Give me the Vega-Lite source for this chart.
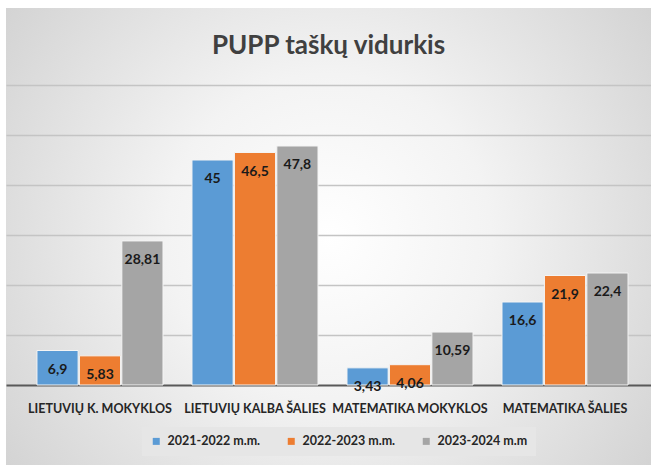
{
  "$schema": "https://vega.github.io/schema/vega-lite/v6.json",
  "width": 645,
  "height": 457,
  "autosize": {"type": "none"},
  "padding": {"left": 6, "top": 8, "right": 0, "bottom": 0},
  "background": "#ffffff",
  "title": {
    "text": "PUPP taškų vidurkis",
    "anchor": "middle",
    "orient": "top",
    "offset": -51,
    "font": "Lato",
    "fontSize": 26,
    "fontWeight": "bold",
    "color": "#404040"
  },
  "data": {
    "values": [
      {"category": "LIETUVIŲ K. MOKYKLOS", "year": "2021-2022 m.m.", "value": 6.9},
      {"category": "LIETUVIŲ K. MOKYKLOS", "year": "2022-2023 m.m.", "value": 5.83},
      {"category": "LIETUVIŲ K. MOKYKLOS", "year": "2023-2024 m.m", "value": 28.81},
      {"category": "LIETUVIŲ KALBA ŠALIES", "year": "2021-2022 m.m.", "value": 45},
      {"category": "LIETUVIŲ KALBA ŠALIES", "year": "2022-2023 m.m.", "value": 46.5},
      {"category": "LIETUVIŲ KALBA ŠALIES", "year": "2023-2024 m.m", "value": 47.8},
      {"category": "MATEMATIKA MOKYKLOS", "year": "2021-2022 m.m.", "value": 3.43},
      {"category": "MATEMATIKA MOKYKLOS", "year": "2022-2023 m.m.", "value": 4.06},
      {"category": "MATEMATIKA MOKYKLOS", "year": "2023-2024 m.m", "value": 10.59},
      {"category": "MATEMATIKA ŠALIES", "year": "2021-2022 m.m.", "value": 16.6},
      {"category": "MATEMATIKA ŠALIES", "year": "2022-2023 m.m.", "value": 21.9},
      {"category": "MATEMATIKA ŠALIES", "year": "2023-2024 m.m", "value": 22.4}
    ]
  },
  "encoding": {
    "x": {
      "field": "category",
      "type": "nominal",
      "sort": null,
      "scale": {"paddingInner": 0.187, "paddingOuter": 0.174, "align": 0.574},
      "axis": {
        "title": null,
        "orient": "bottom",
        "offset": -80,
        "labelAngle": 0,
        "ticks": false,
        "domainColor": "#595959",
        "domainWidth": 2,
        "labelPadding": 17,
        "labelFont": "Lato",
        "labelFontSize": 12.5,
        "labelFontWeight": "bold",
        "labelColor": "#262626",
        "grid": false
      }
    },
    "xOffset": {
      "field": "year",
      "type": "nominal",
      "sort": null,
      "scale": {"paddingInner": 0.03, "paddingOuter": 0}
    },
    "y": {
      "field": "value",
      "type": "quantitative",
      "scale": {"domain": [-16, 75.4], "nice": false, "zero": false},
      "axis": {
        "title": null,
        "values": [10, 20, 30, 40, 50, 60],
        "labels": false,
        "ticks": false,
        "domain": false,
        "grid": true,
        "gridColor": "#c4c4c4",
        "gridWidth": 1.5
      }
    }
  },
  "layer": [
    {
      "mark": {"type": "bar", "stroke": "#f4f4f4", "strokeWidth": 1},
      "encoding": {
        "y2": {"datum": 0},
        "color": {
          "field": "year",
          "type": "nominal",
          "sort": null,
          "scale": {"range": ["#5b9bd5", "#ed7d31", "#a5a5a5"]},
          "legend": {
            "title": null,
            "orient": "none",
            "legendX": 136,
            "legendY": 419,
            "direction": "horizontal",
            "symbolType": "square",
            "symbolSize": 49,
            "symbolStrokeWidth": 0,
            "labelFont": "Lato",
            "labelFontSize": 12.5,
            "labelFontWeight": "bold",
            "labelColor": "#262626",
            "labelOffset": 5,
            "columnPadding": 24,
            "padding": 8,
            "fillColor": "#e6e6e6"
          }
        }
      }
    },
    {
      "mark": {
        "type": "text",
        "baseline": "top",
        "dy": 12,
        "font": "Lato",
        "fontSize": 14,
        "fontWeight": "bold",
        "color": "#1a1a1a"
      },
      "encoding": {
        "text": {"field": "value", "type": "quantitative"}
      }
    }
  ],
  "config": {
    "locale": {
      "number": {"decimal": ",", "thousands": " ", "grouping": [3], "currency": ["", " €"]}
    },
    "view": {
      "stroke": null,
      "fill": {
        "gradient": "radial",
        "x1": 0.5, "y1": 0.5, "r1": 0,
        "x2": 0.5, "y2": 0.5, "r2": 0.72,
        "stops": [
          {"offset": 0, "color": "#ffffff"},
          {"offset": 0.35, "color": "#f3f3f3"},
          {"offset": 1, "color": "#cacaca"}
        ]
      }
    }
  }
}
